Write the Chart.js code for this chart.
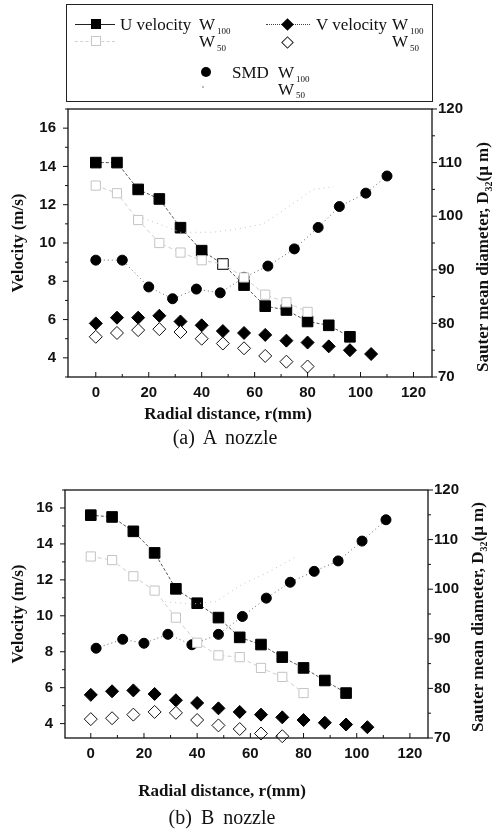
<!DOCTYPE html>
<html>
<head>
<meta charset="utf-8">
<script src="https://cdn.jsdelivr.net/npm/chart.js@4.4.1/dist/chart.umd.min.js"></script>
<style>
body { margin: 0; background: #fff; }
#page { position: relative; width: 493px; height: 831px; overflow: hidden; color: #111; font-family: "Liberation Serif", serif; }
canvas { position: absolute; left: 0; }
.t { position: absolute; white-space: nowrap; line-height: 1; }
.lg { font-size: 17px; }
.sb { font-size: 9px; }
.ax { font-size: 17px; font-weight: bold; transform: translate(-50%, -50%); }
.cap { font-size: 20px; word-spacing: 4px; transform: translate(-50%, -50%); }
.rt { font-size: 17px; font-weight: bold; transform: translate(-50%, -50%) rotate(-90deg); }
.ln { position: absolute; height: 0; }
.mk { position: absolute; box-sizing: border-box; }
</style>
</head>
<body>
<div id="page">
  <canvas id="chartA" width="493" height="372" style="top:88px"></canvas>
  <canvas id="chartB" width="493" height="362" style="top:469px"></canvas>

  <!-- legend box -->
  <div style="position:absolute;left:66px;top:4px;width:365px;height:96px;border:1px solid #222;"></div>
  <div class="ln" style="left:75px;top:24px;width:40px;border-top:1px solid #222"></div>
  <div class="mk" style="left:91px;top:19px;width:10px;height:10px;background:#000"></div>
  <span class="t lg" style="left:120px;top:16px">U velocity</span>
  <span class="t lg" style="left:199px;top:16px">W</span><span class="t sb" style="left:217px;top:27px">100</span>
  <div class="ln" style="left:266px;top:24px;width:44px;border-top:1px dotted #444"></div>
  <div class="mk" style="left:283px;top:20px;width:9px;height:9px;background:#000;transform:rotate(45deg)"></div>
  <span class="t lg" style="left:316px;top:16px">V velocity</span>
  <span class="t lg" style="left:392px;top:16px">W</span><span class="t sb" style="left:410px;top:27px">100</span>

  <div class="ln" style="left:75px;top:41px;width:40px;border-top:1px dashed #d0d0d0"></div>
  <div class="mk" style="left:91px;top:36px;width:10px;height:10px;background:#fff;border:1px solid #c8c8c8"></div>
  <span class="t lg" style="left:199px;top:33px">W</span><span class="t sb" style="left:217px;top:44px">50</span>
  <div class="mk" style="left:283px;top:38px;width:9px;height:9px;background:#fff;border:1px solid #222;transform:rotate(45deg)"></div>
  <span class="t lg" style="left:392px;top:33px">W</span><span class="t sb" style="left:410px;top:44px">50</span>

  <div class="mk" style="left:201px;top:67px;width:10px;height:10px;border-radius:50%;background:#000"></div>
  <span class="t lg" style="left:232px;top:64px">SMD</span>
  <span class="t lg" style="left:278px;top:64px">W</span><span class="t sb" style="left:296px;top:75px">100</span>
  <div class="mk" style="left:202px;top:86px;width:2px;height:2px;background:#bbb"></div>
  <span class="t lg" style="left:278px;top:81px">W</span><span class="t sb" style="left:296px;top:91px">50</span>

  <!-- titles and captions -->
  <div class="t ax" style="left:228px;top:413px">Radial distance, r(mm)</div>
  <div class="t cap" style="left:225px;top:437px">(a) A nozzle</div>
  <div class="t rt" style="left:484px;top:257px">Sauter mean diameter, D<sub style="font-size:10px">32</sub>(μ m)</div>

  <div class="t ax" style="left:222px;top:790px">Radial distance, r(mm)</div>
  <div class="t cap" style="left:222px;top:817px">(b) B nozzle</div>
  <div class="t rt" style="left:479px;top:617px">Sauter mean diameter, D<sub style="font-size:10px">32</sub>(μ m)</div>
</div>

<script>
// (a) A nozzle
const xA_U = [0, 8, 16, 24, 32, 40, 48, 56, 64, 72, 80, 88, 96];
const uA_W100 = [14.2, 14.2, 12.8, 12.3, 10.8, 9.6, 8.9, 7.8, 6.7, 6.5, 5.9, 5.7, 5.1];
const xA_U50 = [0, 8, 16, 24, 32, 40, 48, 56, 64, 72, 80];
const uA_W50 = [13.0, 12.6, 11.2, 10.0, 9.5, 9.1, 8.9, 8.2, 7.3, 6.9, 6.4];
const xA_V = [0, 8, 16, 24, 32, 40, 48, 56, 64, 72, 80, 88, 96, 104];
const vA_W100 = [5.8, 6.1, 6.1, 6.2, 5.9, 5.7, 5.4, 5.3, 5.2, 4.9, 4.8, 4.6, 4.4, 4.2];
const xA_V50 = [0, 8, 16, 24, 32, 40, 48, 56, 64, 72, 80];
const vA_W50 = [5.1, 5.3, 5.45, 5.5, 5.35, 5.0, 4.75, 4.5, 4.1, 3.8, 3.55];
const xA_S = [0, 10, 20, 29, 38, 47, 56, 65, 75, 84, 92, 102, 110];
const smdA_W100 = [91.8, 91.8, 86.8, 84.6, 86.4, 85.7, 88.6, 90.7, 93.9, 97.9, 101.8, 104.3, 107.5];
const xA_S50 = [16, 24, 32, 44, 52, 63, 75, 82, 90];
const smdA_W50 = [100, 98.5, 97, 97, 97.5, 98.5, 102.5, 105, 105.5];

// (b) B nozzle
const xB_U = [0, 8, 16, 24, 32, 40, 48, 56, 64, 72, 80, 88, 96];
const uB_W100 = [15.6, 15.5, 14.7, 13.5, 11.5, 10.7, 9.9, 8.8, 8.4, 7.7, 7.1, 6.4, 5.7];
const xB_U50 = [0, 8, 16, 24, 32, 40, 48, 56, 64, 72, 80];
const uB_W50 = [13.3, 13.1, 12.2, 11.4, 9.9, 8.5, 7.8, 7.7, 7.1, 6.6, 5.7];
const xB_V = [0, 8, 16, 24, 32, 40, 48, 56, 64, 72, 80, 88, 96, 104];
const vB_W100 = [5.6, 5.8, 5.85, 5.65, 5.3, 5.15, 4.85, 4.65, 4.5, 4.35, 4.2, 4.05, 3.95, 3.8];
const xB_V50 = [0, 8, 16, 24, 32, 40, 48, 56, 64, 72];
const vB_W50 = [4.25, 4.3, 4.5, 4.65, 4.6, 4.2, 3.9, 3.7, 3.45, 3.3];
const xB_S = [2, 12, 20, 29, 38, 48, 57, 66, 75, 84, 93, 102, 111];
const smdB_W100 = [88.1, 89.9, 89.1, 90.9, 88.8, 90.9, 94.5, 98.2, 101.4, 103.6, 105.7, 109.7, 114.0];
const xB_S50 = [28, 38, 47, 57, 67, 77];
const smdB_W50 = [97.5, 97, 97.5, 101, 103.5, 106.5];

const xTicks = [0, 20, 40, 60, 80, 100, 120];
const velTicks = [4, 6, 8, 10, 12, 14, 16];
const smdTicks = [70, 80, 90, 100, 110, 120];

function pts(xs, ys) {
    return xs.map((x, i) => ({ x: x, y: ys[i] }));
}

// frame round the plot, with small tick marks
const frameTicks = {
    id: 'frameTicks',
    afterDatasetsDraw(chart) {
        const { ctx, chartArea: a, scales } = chart;
        ctx.save();
        ctx.strokeStyle = '#111';
        ctx.lineWidth = 1.3;
        ctx.strokeRect(a.left, a.top, a.right - a.left, a.bottom - a.top);
        ctx.lineWidth = 1;
        ctx.beginPath();
        for (let v = 0; v <= 120; v += 10) {
            const px = scales.x.getPixelForValue(v);
            const len = v % 20 === 0 ? 5 : 3;
            ctx.moveTo(px, a.bottom);
            ctx.lineTo(px, a.bottom - len);
        }
        for (let v = 3; v <= 17; v += 1) {
            if (v < scales.y.min || v > scales.y.max) continue;
            const py = scales.y.getPixelForValue(v);
            const len = v % 2 === 0 ? 5 : 3;
            ctx.moveTo(a.left, py);
            ctx.lineTo(a.left - len, py);
        }
        for (let v = 70; v <= 120; v += 5) {
            const py = scales.y2.getPixelForValue(v);
            const len = v % 10 === 0 ? 5 : 3;
            ctx.moveTo(a.right, py);
            ctx.lineTo(a.right + len, py);
        }
        ctx.stroke();
        ctx.restore();
    }
};

function makeChart(id, d, box) {
    const tickFont = { family: 'Liberation Sans', size: 15, weight: 'bold' };
    new Chart(document.getElementById(id), {
        type: 'scatter',
        data: {
            datasets: [
                { label: 'U velocity W50', data: d.u50, showLine: true, borderColor: '#cfcfcf', borderWidth: 1, borderDash: [4, 3],
                  pointStyle: 'rect', pointRadius: 6.5, pointBackgroundColor: '#fff', pointBorderColor: '#c4c4c4', pointBorderWidth: 1 },
                { label: 'SMD W50', data: d.s50, yAxisID: 'y2', showLine: true, borderColor: '#c4c4c4', borderWidth: 1, borderDash: [1, 4],
                  pointRadius: 0 },
                { label: 'SMD W100', data: d.s100, yAxisID: 'y2', showLine: true, borderColor: '#666', borderWidth: 1, borderDash: [1, 3],
                  pointStyle: 'circle', pointRadius: 5, pointBackgroundColor: '#000', pointBorderColor: '#000' },
                { label: 'U velocity W100', data: d.u100, showLine: true, borderColor: '#555', borderWidth: 1, borderDash: [3, 2],
                  pointStyle: 'rect', pointRadius: 7.5, pointBackgroundColor: '#000', pointBorderColor: '#000' },
                { label: 'V velocity W50', data: d.v50, showLine: false,
                  pointStyle: 'rectRot', pointRadius: 6.5, pointBackgroundColor: '#fff', pointBorderColor: '#111', pointBorderWidth: 1 },
                { label: 'V velocity W100', data: d.v100, showLine: false,
                  pointStyle: 'rectRot', pointRadius: 6.5, pointBackgroundColor: '#000', pointBorderColor: '#000' }
            ]
        },
        options: {
            responsive: false,
            animation: false,
            clip: false,
            layout: { padding: 0 },
            plugins: { legend: { display: false }, tooltip: { enabled: false } },
            scales: {
                x: {
                    type: 'linear', min: box.xmin, max: box.xmax,
                    afterFit: s => { s.height = box.xh; },
                    afterBuildTicks: s => { s.ticks = xTicks.map(v => ({ value: v })); },
                    grid: { display: false, drawTicks: false },
                    border: { display: false },
                    ticks: { font: tickFont, color: '#111', padding: 7, autoSkip: false, maxRotation: 0 }
                },
                y: {
                    type: 'linear', position: 'left', min: box.ymin, max: 17,
                    afterFit: s => { s.width = box.lw; },
                    afterBuildTicks: s => { s.ticks = velTicks.map(v => ({ value: v })); },
                    grid: { display: false, drawTicks: false },
                    border: { display: false },
                    ticks: { font: tickFont, color: '#111', padding: 12, autoSkip: false },
                    title: { display: true, text: 'Velocity (m/s)', color: '#111', padding: { top: 8, bottom: 0 },
                             font: { family: 'Liberation Serif', size: 17, weight: 'bold' } }
                },
                y2: {
                    type: 'linear', position: 'right', min: 70, max: 120,
                    afterFit: s => { s.width = box.rw; },
                    afterBuildTicks: s => { s.ticks = smdTicks.map(v => ({ value: v })); },
                    grid: { display: false, drawTicks: false },
                    border: { display: false },
                    ticks: { font: tickFont, color: '#111', padding: 6, autoSkip: false }
                }
            }
        },
        plugins: [frameTicks]
    });
}

makeChart('chartA', {
    u100: pts(xA_U, uA_W100), u50: pts(xA_U50, uA_W50),
    v100: pts(xA_V, vA_W100), v50: pts(xA_V50, vA_W50),
    s100: pts(xA_S, smdA_W100), s50: pts(xA_S50, smdA_W50)
}, { xmin: -10.5, xmax: 127, ymin: 3, lw: 68, rw: 61, xh: 83 });

makeChart('chartB', {
    u100: pts(xB_U, uB_W100), u50: pts(xB_U50, uB_W50),
    v100: pts(xB_V, vB_W100), v50: pts(xB_V50, vB_W50),
    s100: pts(xB_S, smdB_W100), s50: pts(xB_S50, smdB_W50)
}, { xmin: -9.7, xmax: 126.8, ymin: 3.2, lw: 65, rw: 65, xh: 93 });
</script>
</body>
</html>
